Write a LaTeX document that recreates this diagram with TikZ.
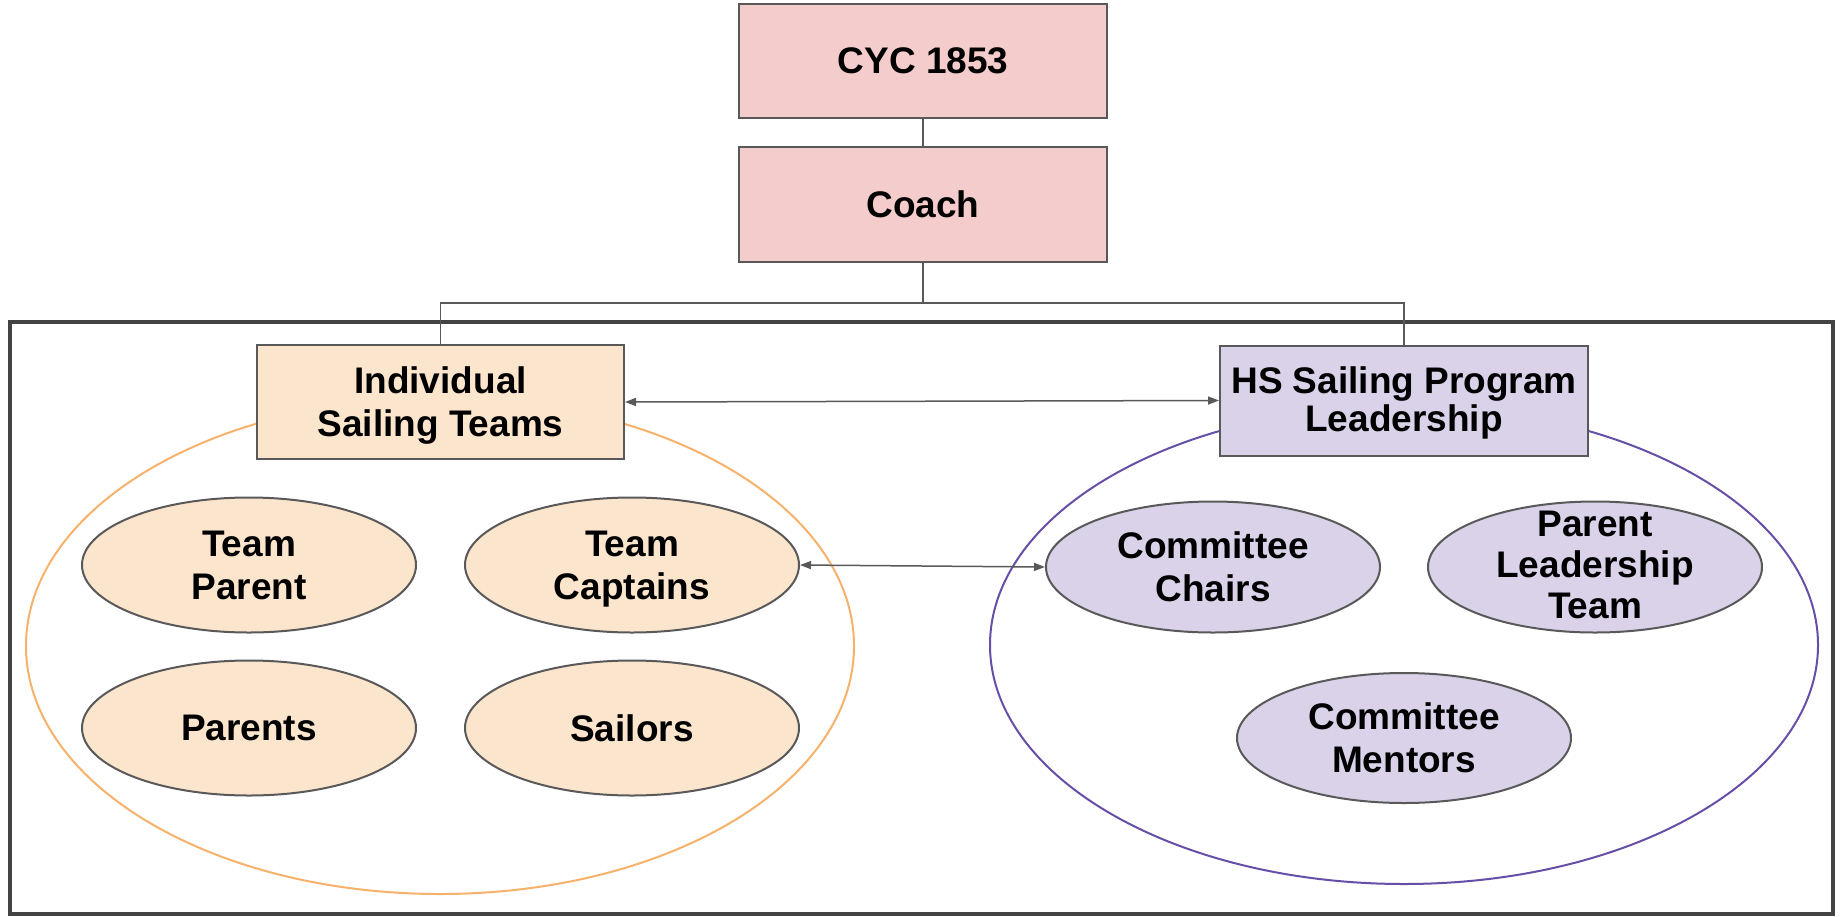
\documentclass[tikz,border=0pt]{standalone}
\usepackage{fontspec}
\setmainfont{Liberation Sans}
\usetikzlibrary{shapes.geometric,arrows.meta}
\definecolor{pinkf}{HTML}{F4CCCC}
\definecolor{peachf}{HTML}{FCE5CD}
\definecolor{lavf}{HTML}{D9D2E9}
\definecolor{edgec}{HTML}{595959}
\definecolor{framec}{HTML}{434343}
\definecolor{orangec}{HTML}{F6B26B}
\definecolor{purplec}{HTML}{674EA7}
\begin{document}
\begin{tikzpicture}[x=1pt,y=-1pt,
 lbl/.style={font=\fontsize{37}{43}\selectfont\bfseries, align=center, text=black, text depth=0pt},
 boxnode/.style={lbl, draw=edgec, line width=2pt, rectangle, inner sep=0pt},
 ovalnode/.style={lbl, draw=edgec, line width=2pt, ellipse, inner sep=0pt, minimum width=334pt, minimum height=135pt},
 conn/.style={draw=edgec, line width=1.5pt},
 biarrow/.style={conn, {Triangle[length=11pt,width=8pt]}-{Triangle[length=11pt,width=8pt]}}
]
\useasboundingbox (0,0) rectangle (1841,916);
\draw[framec, line width=3.5pt] (10,322) rectangle (1833,914);
\draw[orangec, line width=2pt] (440,646) ellipse [x radius=414, y radius=248];
\draw[purplec, line width=2pt] (1404,645) ellipse [x radius=414, y radius=239];

\node[boxnode, fill=pinkf, minimum width=368pt, minimum height=114pt, text depth=-4pt] (cyc) at (923,61) {CYC 1853};
\node[boxnode, fill=pinkf, minimum width=368pt, minimum height=115pt] (coach) at (923,204.5) {Coach};
\node[boxnode, fill=peachf, minimum width=367pt, minimum height=114pt] (ist) at (440.5,402) {Individual\\Sailing Teams};
\node[boxnode, fill=lavf, minimum width=368pt, minimum height=110pt, text depth=2pt, font=\fontsize{37}{38}\selectfont\bfseries] (hs) at (1404,400.5) {HS Sailing Program\\Leadership};

\coordinate (bar) at (923,303);
\draw[conn] (cyc.south) -- (coach.north);
\draw[conn] (coach.south) -- (bar);
\draw[conn] (ist.north) |- (bar) -| (hs.north);

\node[ovalnode, fill=peachf] (tp) at (249,565) {Team\\Parent};
\node[ovalnode, fill=peachf] (tc) at (632,565) {Team\\Captains};
\node[ovalnode, fill=peachf] (pa) at (249,728) {Parents};
\node[ovalnode, fill=peachf] (sa) at (632,728) {Sailors};
\node[ovalnode, fill=lavf, minimum height=131pt] (cc) at (1213,567) {Committee\\Chairs};
\node[ovalnode, fill=lavf, minimum height=131pt, inner ysep=-25pt, text depth=5pt, font=\fontsize{37}{41}\selectfont\bfseries] (pl) at (1595,567) {Parent\\Leadership\\Team};
\node[ovalnode, fill=lavf, minimum height=130pt] (cm) at (1404,738) {Committee\\Mentors};

\draw[biarrow] (ist.east) -- (hs.west);
\draw[biarrow] (tc.east) -- (cc.west);
\end{tikzpicture}
\end{document}
